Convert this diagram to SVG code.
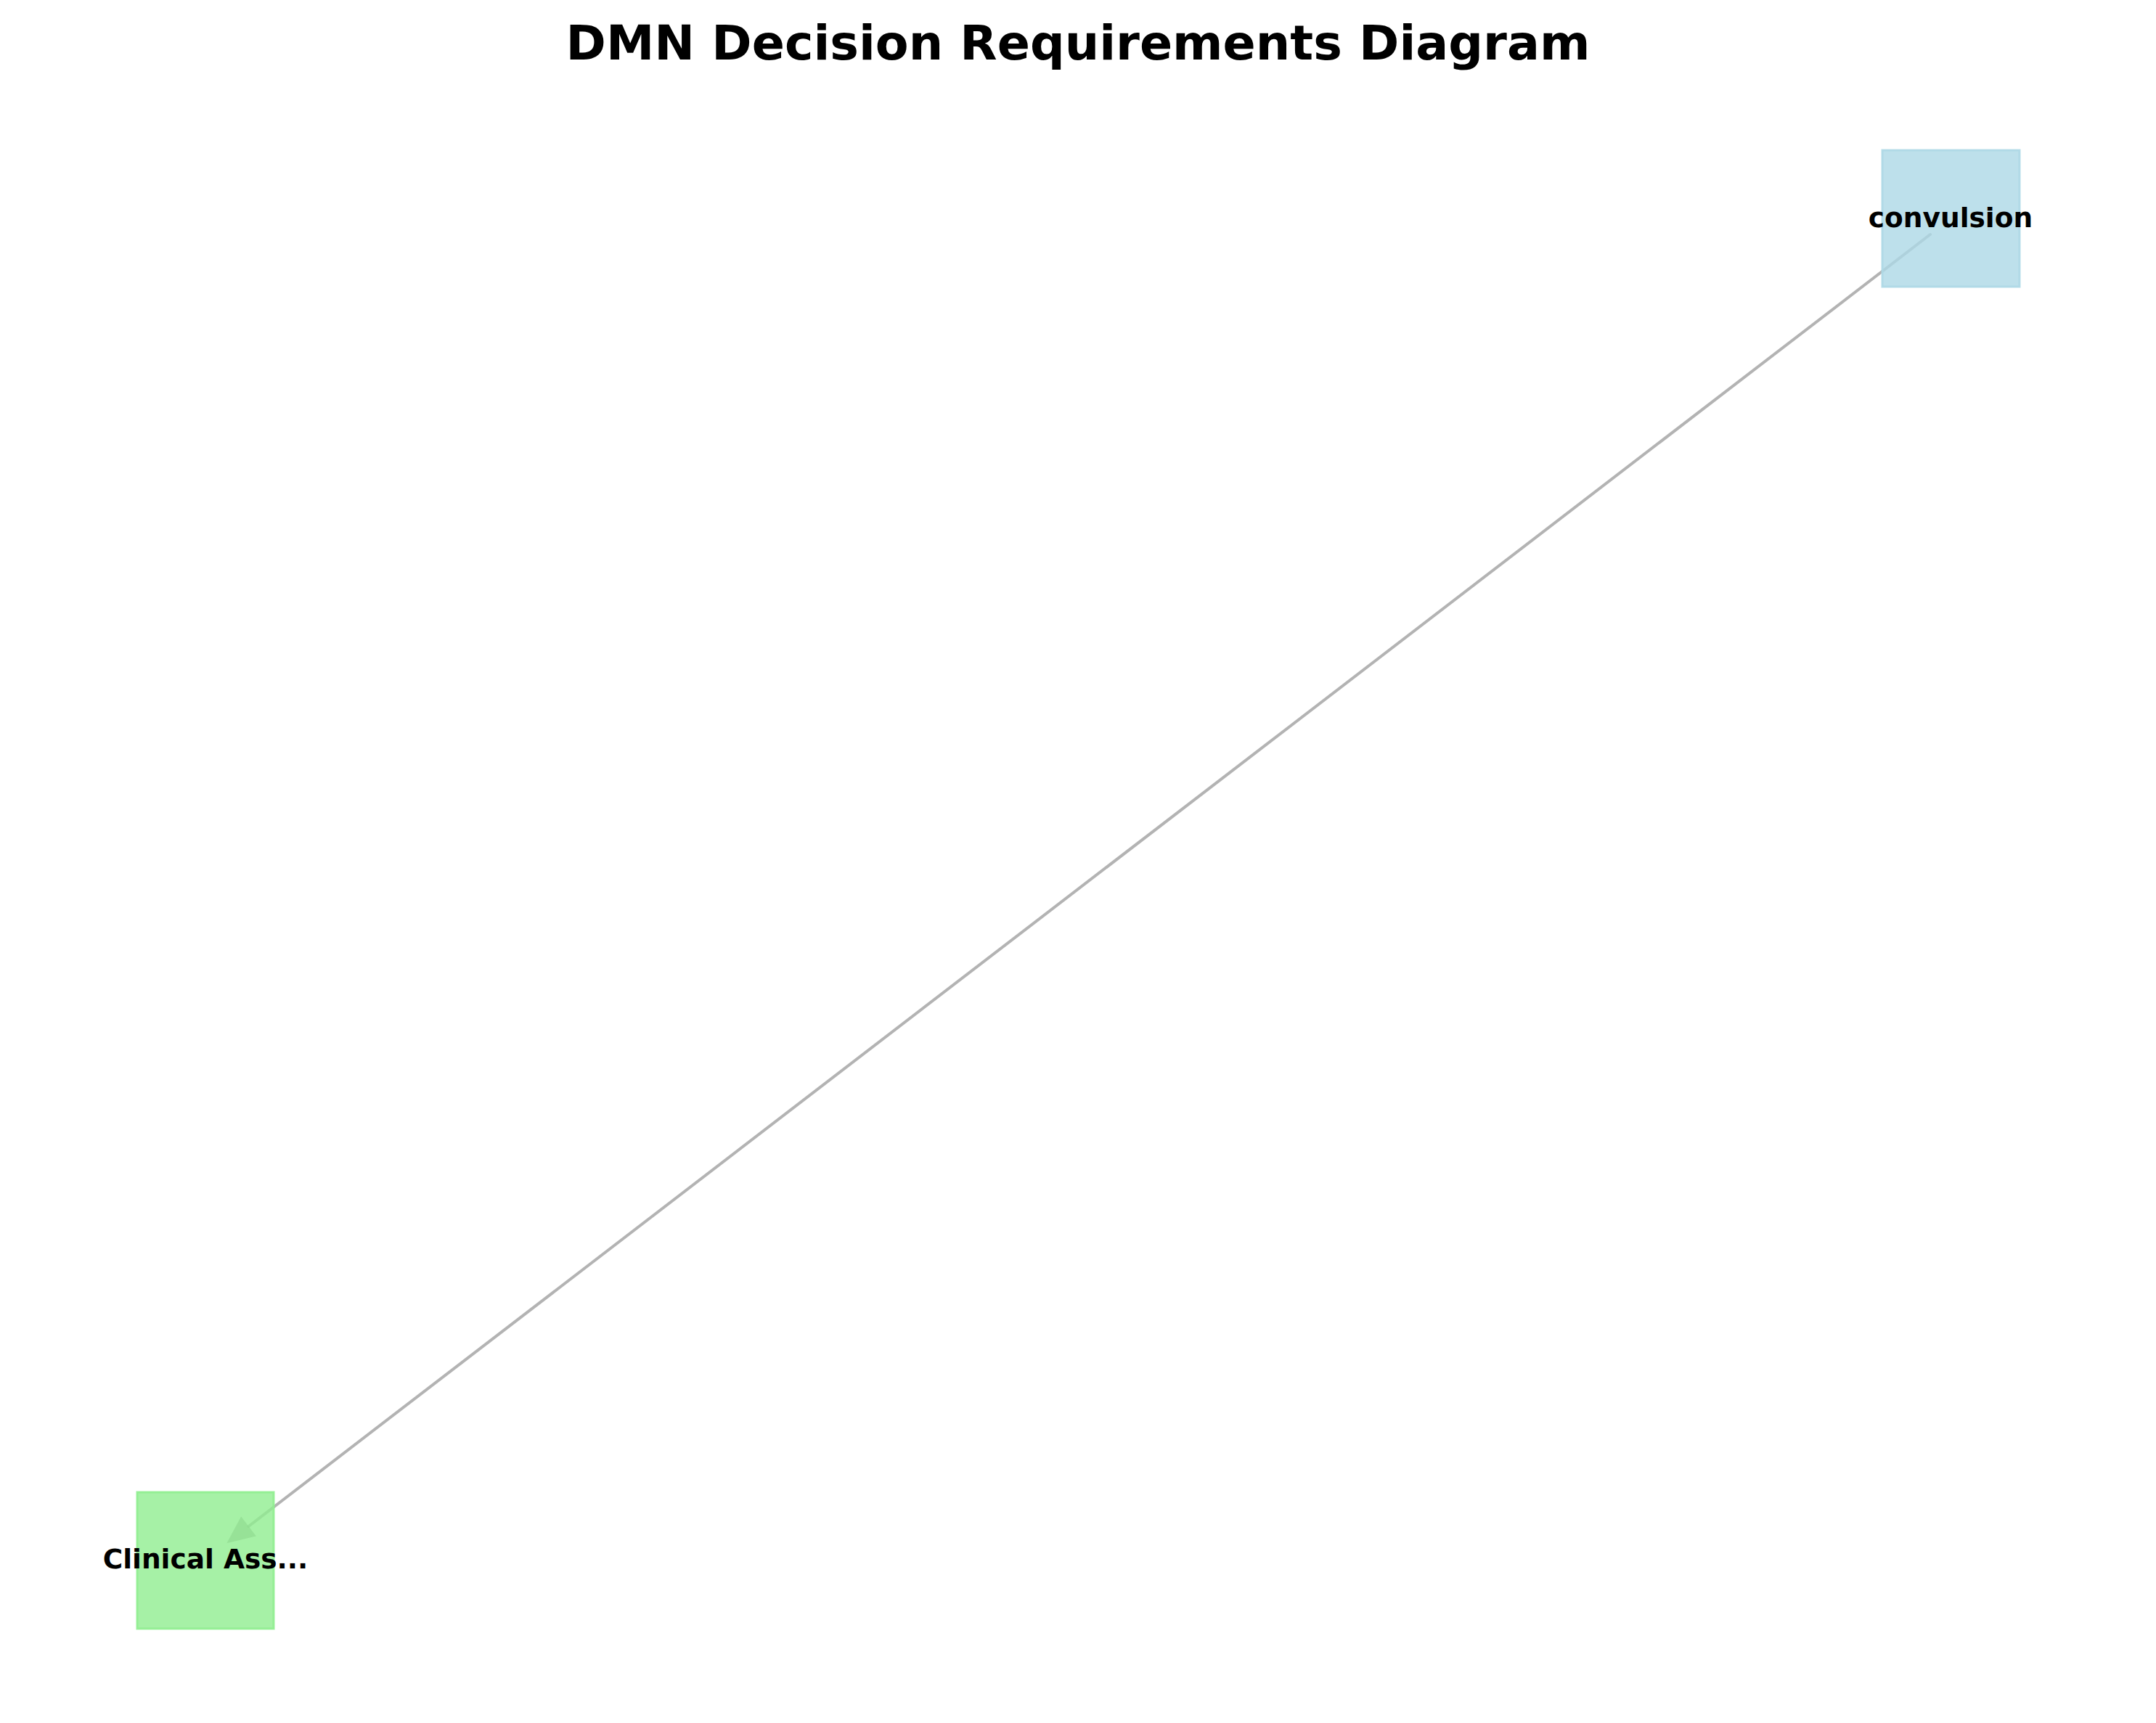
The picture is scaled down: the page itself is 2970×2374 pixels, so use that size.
<svg xmlns="http://www.w3.org/2000/svg" width="2970" height="2374" viewBox="0 0 2970 2374">
<style>
.title{font-family:"DejaVu Sans",sans-serif;font-weight:bold;font-size:66.7px;fill:#000;text-anchor:middle}
.lbl{font-family:"DejaVu Sans",sans-serif;font-weight:bold;font-size:37.5px;fill:#000;text-anchor:middle}
.input{fill:#add8e6;fill-opacity:0.8;stroke:#add8e6;stroke-opacity:0.9;stroke-width:3}
.decision{fill:#90ee90;fill-opacity:0.8;stroke:#90ee90;stroke-opacity:0.9;stroke-width:3}
.edge{fill:none;stroke:#808080;stroke-opacity:0.6;stroke-width:4;stroke-linecap:round}
.head{fill:#808080;fill-opacity:0.6;stroke:none}
</style>
<defs>
<marker id="arrow" markerUnits="userSpaceOnUse" markerWidth="40" markerHeight="36" refX="0" refY="17" orient="auto" overflow="visible">
<path class="head" d="M0,0 L38,17 L0,34 Z"/>
</marker>
</defs>
<rect width="2970" height="2374" fill="#fff"/>
<text class="title" x="1485" y="82">DMN Decision Requirements Diagram</text>
<g id="connectors">
<line class="edge" x1="2659" y1="323" x2="342.5" y2="2103" marker-end="url(#arrow)"/>
</g>
<g id="node-convulsion">
<rect class="input" x="2593" y="207" width="189" height="188"/>
<text class="lbl" x="2687" y="313">convulsion</text>
</g>
<g id="node-clinical">
<rect class="decision" x="189" y="2056" width="188" height="188"/>
<text class="lbl" x="283" y="2161">Clinical Ass...</text>
</g>
</svg>
